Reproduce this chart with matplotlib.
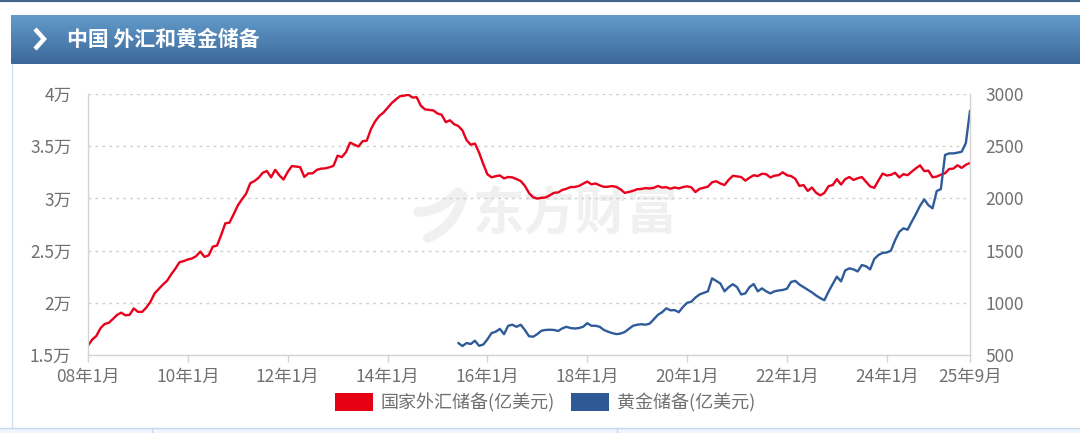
import numpy as np
import matplotlib
matplotlib.use('Agg')
import matplotlib.pyplot as plt
from matplotlib.patches import Patch, Rectangle, PathPatch
from matplotlib.path import Path
from matplotlib.lines import Line2D

plt.rcParams['font.family'] = ['Noto Sans CJK SC', 'DejaVu Sans']

W, H = 1080, 433

# 国家外汇储备(亿美元), 2008-01 .. 2025-09, monthly
forex = [
    15898, 16471, 16822, 17567, 17970, 18088, 18452, 18842, 19056, 18797, 18847, 19460,
    19135, 19121, 19537, 20089, 20895, 21316, 21746, 22108, 22726, 23273, 23888, 23992,
    24152, 24246, 24471, 24905, 24395, 24543, 25381, 25478, 26483, 27609, 27678, 28473,
    29317, 29914, 30447, 31458, 31661, 31975, 32453, 32625, 32017, 32738, 32209, 31811,
    32536, 33097, 33050, 32989, 32061, 32400, 32398, 32729, 32851, 32874, 32977, 33116,
    34095, 33954, 34426, 35345, 35148, 34967, 35478, 35530, 36627, 37366, 37895, 38213,
    38666, 39137, 39481, 39788, 39839, 39932, 39663, 39688, 38877, 38529, 38474, 38430,
    38134, 38015, 37300, 37481, 37111, 36938, 36513, 35574, 35141, 35255, 34384, 33304,
    32309, 32023, 32126, 32197, 31917, 32052, 32011, 31852, 31664, 31207, 30516, 30105,
    29982, 30051, 30091, 30295, 30536, 30568, 30807, 30921, 31085, 31092, 31193, 31399,
    31615, 31345, 31428, 31249, 31106, 31121, 31179, 31097, 30870, 30531, 30617, 30727,
    30879, 30902, 30988, 30950, 31010, 31192, 31037, 31072, 30924, 31052, 30956, 31079,
    31155, 31067, 30606, 30915, 31017, 31123, 31544, 31646, 31426, 31280, 31785, 32165,
    32107, 32050, 31700, 31982, 32218, 32140, 32359, 32321, 32006, 32176, 32224, 32502,
    32216, 32138, 31880, 31197, 31278, 30717, 31041, 30549, 30290, 30524, 31175, 31277,
    31845, 31332, 31839, 32048, 31765, 31930, 32043, 31601, 31151, 31012, 31718, 32380,
    32193, 32258, 32457, 32008, 32320, 32224, 32564, 32882, 33164, 32610, 32659, 32024,
    32090, 32272, 32407, 32817, 32854, 33174, 32922, 33222, 33387,
]

# 黄金储备(亿美元), 2015-06 .. 2025-09, monthly
gold_start = 89
gold = [
    615, 586, 615, 605, 637, 588, 600,
    650, 710, 723, 750, 700, 780, 790, 770, 790, 740, 680, 675,
    700, 733, 740, 742, 740, 730, 755, 770, 758, 754, 758, 770,
    805, 780, 780, 770, 740, 723, 710, 700, 705, 720, 750, 780,
    790, 795, 790, 800, 842, 885, 910, 947, 928, 930, 910, 960,
    1000, 1010, 1050, 1080, 1095, 1110, 1234, 1210, 1185, 1110, 1150, 1178,
    1150, 1080, 1090, 1150, 1180, 1110, 1138, 1110, 1090, 1110, 1118, 1123,
    1135, 1200, 1210, 1175, 1150, 1125, 1100, 1070, 1045, 1025, 1107, 1180,
    1250, 1205, 1310, 1330, 1320, 1300, 1362, 1350, 1320, 1420, 1458, 1478,
    1482, 1500, 1600, 1680, 1713, 1700, 1777, 1850, 1930, 1990, 1935, 1905,
    2070, 2090, 2416, 2431, 2431, 2438, 2447, 2530, 2840,
]

tick_pos = [0, 24, 48, 72, 96, 120, 144, 168, 192, 212]
tick_labels = ['08年1月', '10年1月', '12年1月', '14年1月', '16年1月',
               '18年1月', '20年1月', '22年1月', '24年1月', '25年9月']
left_ticks = [15000, 20000, 25000, 30000, 35000, 40000]
left_labels = ['1.5万', '2万', '2.5万', '3万', '3.5万', '4万']
right_ticks = [500, 1000, 1500, 2000, 2500, 3000]

red = '#e8001c'
blue = '#2e5b9a'
txt = '#707070'
axis_c = '#d3d3d3'
wm = '#f0f0f0'


def fx(x):
    return x / W


def fy(y):
    return 1 - y / H


fig = plt.figure(figsize=(W / 100, H / 100), dpi=100)

# frame pieces
fig.add_artist(Line2D([0, 1], [fy(0.8)] * 2, color='#46678c', lw=1.6))
fig.add_artist(Line2D([fx(11.5)] * 2, [fy(64), fy(428)], color='#d3e0ee', lw=1))
fig.add_artist(Rectangle((0, 0), 1, fy(428), transform=fig.transFigure,
                         facecolor='#eef5fc', edgecolor='none'))
fig.add_artist(Line2D([0, 1], [fy(428)] * 2, color='#c5d9ee', lw=1))
for xs in (152, 617):
    fig.add_artist(Line2D([fx(xs)] * 2, [fy(428), 0], color='#c5d9ee', lw=1))

# header bar with gradient
hax = fig.add_axes([fx(11), fy(64), fx(1080 - 11), (64 - 15) / H])
top = np.array([0x62, 0x9b, 0xcb]) / 255
bot = np.array([0x3c, 0x68, 0x99]) / 255
t = np.linspace(0, 1, 60)[:, None]
grad = (top[None, None, :] * (1 - t[:, :, None]) + bot[None, None, :] * t[:, :, None])
hax.imshow(grad, aspect='auto', extent=[0, 1, 0, 1])
hax.set_xlim(0, 1)
hax.set_ylim(0, 1)
hax.axis('off')
fig.add_artist(Line2D([fx(35), fx(44), fx(35)], [fy(29), fy(39), fy(49)],
                      color='white', lw=3.2, solid_capstyle='butt',
                      solid_joinstyle='miter'))
fig.text(fx(67), fy(40), '中国 外汇和黄金储备', color='white', fontsize=15,
         fontweight='bold', va='center', ha='left')

# watermark (behind the chart lines)
fig.text(fx(575), fy(214), '东方财富', color=wm, fontsize=37,
         fontweight='bold', ha='center', va='center', zorder=-1)
for pts in ([(418, 212), (440, 212), (458, 192)],
            [(428, 238), (455, 226), (463, 196)]):
    verts = [(fx(a), fy(b)) for a, b in pts]
    fig.add_artist(PathPatch(Path(verts, [Path.MOVETO, Path.CURVE3, Path.CURVE3]),
                             transform=fig.transFigure, facecolor='none',
                             edgecolor=wm, lw=7, capstyle='round', zorder=-1))

# main chart
ax = fig.add_axes([fx(88), fy(355), fx(970 - 88), (355 - 94) / H])
ax.patch.set_alpha(0)
ax2 = ax.twinx()

ax.plot(np.arange(len(forex)), forex, color=red, lw=1.7,
        solid_joinstyle='round', solid_capstyle='round')
ax2.plot(np.arange(gold_start, gold_start + len(gold)), gold, color=blue, lw=1.7,
         solid_joinstyle='round', solid_capstyle='round')

ax.set_xlim(0, 212)
ax.set_ylim(15000, 40000)
ax2.set_ylim(500, 3000)

ax.set_yticks(left_ticks)
ax.set_yticklabels(left_labels)
ax2.set_yticks(right_ticks)
ax2.set_yticklabels([str(v) for v in right_ticks])
ax.set_xticks(tick_pos)
ax.set_xticklabels(tick_labels)

ax.yaxis.grid(True, linestyle=(0, (2, 3)), color='#cfcfcf', lw=1)
ax.set_axisbelow(True)

for s in ('top', 'right'):
    ax.spines[s].set_visible(False)
for s in ('top', 'left', 'bottom'):
    ax2.spines[s].set_visible(False)
for s in (ax.spines['left'], ax.spines['bottom'], ax2.spines['right']):
    s.set_color(axis_c)
    s.set_linewidth(1)

ax.tick_params(axis='y', length=0, pad=12, labelcolor=txt, labelsize=12.5)
ax2.tick_params(axis='y', length=0, pad=11, labelcolor=txt, labelsize=12.5)
ax.tick_params(axis='x', length=5, width=1, color=axis_c, pad=4,
               labelcolor=txt, labelsize=12.5)

handles = [Patch(facecolor='#e60012', edgecolor='none', label='国家外汇储备(亿美元)'),
           Patch(facecolor='#2f5896', edgecolor='none', label='黄金储备(亿美元)')]
fig.legend(handles=handles, loc='center', bbox_to_anchor=(fx(545), fy(403)),
           ncol=2, frameon=False, fontsize=13, labelcolor=txt,
           handlelength=2.1, handleheight=1.15, handletextpad=0.45,
           columnspacing=0.9, borderpad=0)

fig.savefig('out.png', dpi=100)
